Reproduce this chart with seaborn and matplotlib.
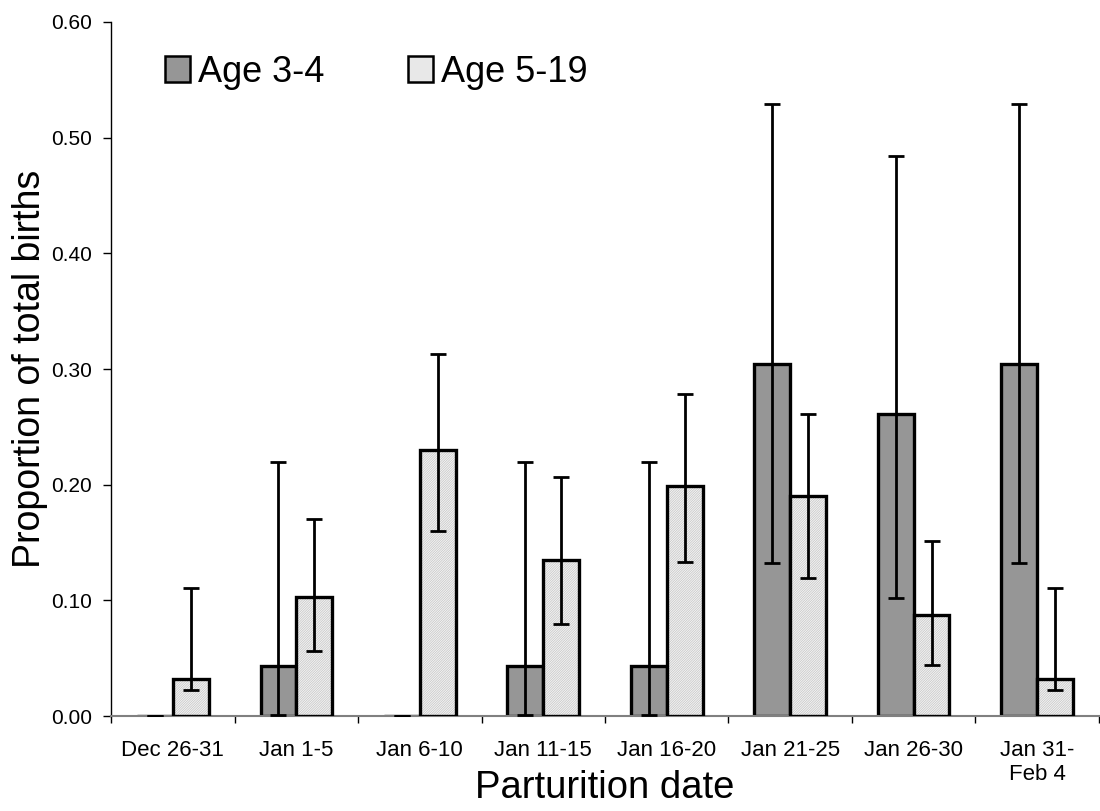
import matplotlib
matplotlib.use("Agg")
import matplotlib.pyplot as plt
import seaborn as sns
import pandas as pd
import numpy as np
from matplotlib.patches import Rectangle, Patch

categories = ["Dec 26-31", "Jan 1-5", "Jan 6-10", "Jan 11-15", "Jan 16-20",
              "Jan 21-25", "Jan 26-30", "Jan 31-\nFeb 4"]
series = ["Age 3-4", "Age 5-19"]
age34 = [0.0, 0.043, 0.0, 0.043, 0.043, 0.304, 0.261, 0.304]
age34_low = [0.0, 0.001, 0.0, 0.001, 0.001, 0.132, 0.102, 0.132]
age34_high = [0.0, 0.220, 0.0, 0.220, 0.220, 0.529, 0.484, 0.529]
age519 = [0.032, 0.103, 0.230, 0.135, 0.199, 0.190, 0.087, 0.032]
age519_low = [0.023, 0.056, 0.160, 0.080, 0.133, 0.119, 0.044, 0.023]
age519_high = [0.111, 0.170, 0.313, 0.207, 0.278, 0.261, 0.151, 0.111]
yticks = [0.0, 0.1, 0.2, 0.3, 0.4, 0.5, 0.6]

sns.set_style("white")
plt.rcParams['font.family'] = ['Liberation Sans', 'DejaVu Sans']
plt.rcParams['text.color'] = 'black'
plt.rcParams['axes.labelcolor'] = 'black'
plt.rcParams['xtick.color'] = 'black'
plt.rcParams['ytick.color'] = 'black'
plt.rcParams['hatch.linewidth'] = 0.5
plt.rcParams['hatch.color'] = '#c4c4c4'

HATCH = "/" * 14
GRAY = "#969696"
LIGHT = "#f4f4f4"

df = pd.DataFrame({
    "date": categories * 2,
    "group": [series[0]] * len(categories) + [series[1]] * len(categories),
    "value": age34 + age519,
})

fig = plt.figure(figsize=(11, 8.11), dpi=100)
ax = fig.add_axes([0.101, 0.117, 0.898, 0.856])

sns.barplot(data=df, x="date", y="value", hue="group", order=categories,
            hue_order=series, palette=[GRAY, LIGHT], width=0.58,
            gap=0, errorbar=None, ax=ax, legend=False, zorder=2)

n = len(categories)
bars = list(ax.patches)
gray_bars = bars[:n]
light_bars = bars[n:2 * n]
for p in gray_bars:
    p.set_edgecolor("black")
    p.set_linewidth(2.4)
for p in light_bars:
    p.set_edgecolor("#c4c4c4")
    p.set_hatch(HATCH)
    p.set_linewidth(0)
    bb = p.get_bbox()
    ax.add_patch(Rectangle((bb.x0, bb.y0), bb.width, bb.height, fill=False,
                           edgecolor="black", linewidth=2.4, zorder=3))

def centers(ps):
    return [p.get_x() + p.get_width() / 2 for p in ps]

for ps, vals, lo, hi in [(gray_bars, age34, age34_low, age34_high),
                         (light_bars, age519, age519_low, age519_high)]:
    v = np.array(vals)
    yerr = np.vstack([v - np.array(lo), np.array(hi) - v])
    ax.errorbar(centers(ps), v, yerr=yerr, fmt="none", ecolor="black",
                elinewidth=2.0, capsize=5.8, capthick=2.0, zorder=4)

ax.set_ylim(0, 0.6)
ax.set_xlim(-0.5, n - 0.5)
ax.set_yticks(yticks)
ax.set_yticklabels([f"{t:.2f}" for t in yticks], fontsize=15)
ax.set_xticks(range(n))
ax.set_xticklabels(categories, fontsize=16)
ax.set_xticks(np.arange(-0.5, n, 1), minor=True)
ax.tick_params(axis="x", which="major", length=0, pad=17, labelcolor="black")
ax.tick_params(axis="x", which="minor", length=5, width=1, color="black",
               direction="out", bottom=True)
ax.tick_params(axis="y", which="major", length=6, width=1, color="black",
               direction="out", left=True, pad=8, labelcolor="black")

for s in ["top", "right"]:
    ax.spines[s].set_visible(False)
ax.spines["left"].set_color("black")
ax.spines["left"].set_linewidth(1)
ax.spines["bottom"].set_color("#808080")
ax.spines["bottom"].set_linewidth(1.5)

ax.set_xlabel("Parturition date", fontsize=27.5, color="black")
ax.xaxis.set_label_coords(0.5, -0.0776)
ax.set_ylabel("Proportion of total births", fontsize=27, labelpad=2, color="black")

try:
    light_handle = Patch(facecolor=LIGHT, edgecolor="black", linewidth=1.8,
                         hatch="/" * 8, hatchcolor="#c4c4c4")
except Exception:
    light_handle = Patch(facecolor="#e8e8e8", edgecolor="black", linewidth=1.8)
handles = [Patch(facecolor=GRAY, edgecolor="black", linewidth=1.8), light_handle]
leg = ax.legend(handles, series, loc="upper left", bbox_to_anchor=(0.0547, 0.953),
                ncol=2, frameon=False, fontsize=26, handlelength=0.7,
                handleheight=0.7, handletextpad=0.22, columnspacing=2.3,
                borderpad=0, borderaxespad=0)
for t in leg.get_texts():
    t.set_color("black")

fig.savefig("out.png", dpi=100)
